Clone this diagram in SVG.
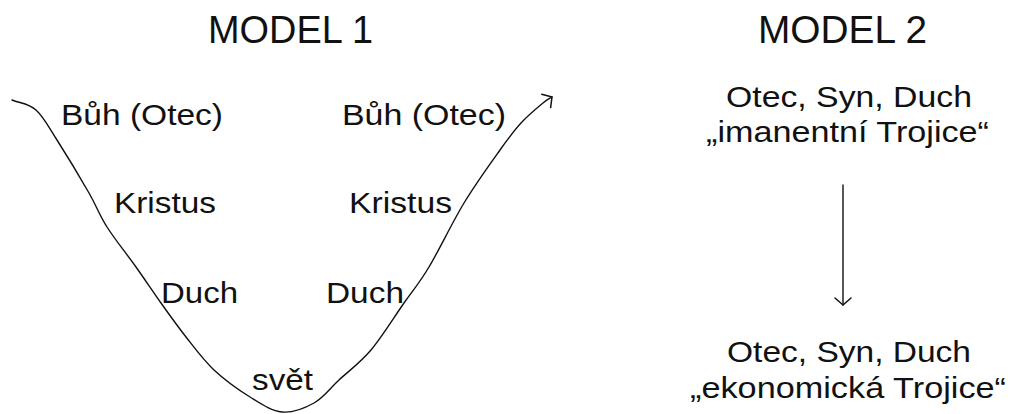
<svg xmlns="http://www.w3.org/2000/svg" width="1011" height="414" viewBox="0 0 1011 414">
<style>
text{font-family:"Liberation Sans",Arial,sans-serif;fill:#111;}
.t{font-size:30px;}
.h{font-size:38px;}
.c{fill:none;stroke:#111;stroke-width:1.4;stroke-linecap:round;}
</style>
<defs>
<marker id="ah" viewBox="-9 -10 11 20" refX="0" refY="0" markerWidth="11" markerHeight="20" markerUnits="userSpaceOnUse" orient="auto">
<path d="M-7,-8 L0,0 L-7,8" fill="none" stroke="#111" stroke-width="1.5" stroke-linecap="round" stroke-linejoin="round"/>
</marker>
</defs>
<rect width="1011" height="414" fill="#fff"/>
<g id="titles">
<text id="model1" class="h" x="208" y="43" textLength="165" lengthAdjust="spacingAndGlyphs">MODEL 1</text>
<text id="model2" class="h" x="758" y="43" textLength="169" lengthAdjust="spacingAndGlyphs">MODEL 2</text>
</g>
<g id="connectors">
<path class="c" marker-end="url(#ah)" d="M12,100 C20,103.3 28.5,103.3 36,110 C43.5,116.7 48.2,126.2 57,140 C65.8,153.8 80.7,178.5 89,193 C97.3,207.5 99.2,214.7 107,227 C114.8,239.3 127,254.3 136,267 C145,279.7 152.7,291.3 161,303 C169.3,314.7 177.2,325.8 186,337 C194.8,348.2 203.3,360 214,370 C224.7,380 238.7,390 250,397 C261.3,404 271.3,411 282,412 C292.7,413 304.5,408.3 314,403 C323.5,397.7 329.5,388.8 339,380 C348.5,371.2 360.2,362.8 371,350 C381.8,337.2 394.3,316.8 404,303 C413.7,289.2 419,283.7 429,267 C439,250.3 452.2,222.5 464,203 C475.8,183.5 490.5,163.3 500,150 C509.5,136.7 513.8,130.8 521,123 C528.2,115.2 537.8,107.3 543,103 C548.2,98.7 549,99 552,97"/>
<line class="c" x1="843" y1="185" x2="843" y2="305" stroke-width="1.6" marker-end="url(#ah)"/>
</g>
<g id="model1-left">
<text class="t" x="61" y="125" textLength="162" lengthAdjust="spacingAndGlyphs">Bůh (Otec)</text>
<text class="t" x="114" y="213" textLength="102" lengthAdjust="spacingAndGlyphs">Kristus</text>
<text class="t" x="161" y="303" textLength="77" lengthAdjust="spacingAndGlyphs">Duch</text>
</g>
<g id="model1-right">
<text class="t" x="342" y="125" textLength="164" lengthAdjust="spacingAndGlyphs">Bůh (Otec)</text>
<text class="t" x="349" y="213" textLength="103" lengthAdjust="spacingAndGlyphs">Kristus</text>
<text class="t" x="326" y="303" textLength="78" lengthAdjust="spacingAndGlyphs">Duch</text>
</g>
<g id="svet">
<text class="t" x="252" y="390" textLength="61" lengthAdjust="spacingAndGlyphs">svět</text>
</g>
<g id="imanentni">
<text class="t" x="726" y="107" textLength="246" lengthAdjust="spacingAndGlyphs">Otec, Syn, Duch</text>
<text class="t" x="706" y="142" textLength="283" lengthAdjust="spacingAndGlyphs">„imanentní Trojice“</text>
</g>
<g id="ekonomicka">
<text class="t" x="727" y="362" textLength="244" lengthAdjust="spacingAndGlyphs">Otec, Syn, Duch</text>
<text class="t" x="690" y="398" textLength="316" lengthAdjust="spacingAndGlyphs">„ekonomická Trojice“</text>
</g>
</svg>
